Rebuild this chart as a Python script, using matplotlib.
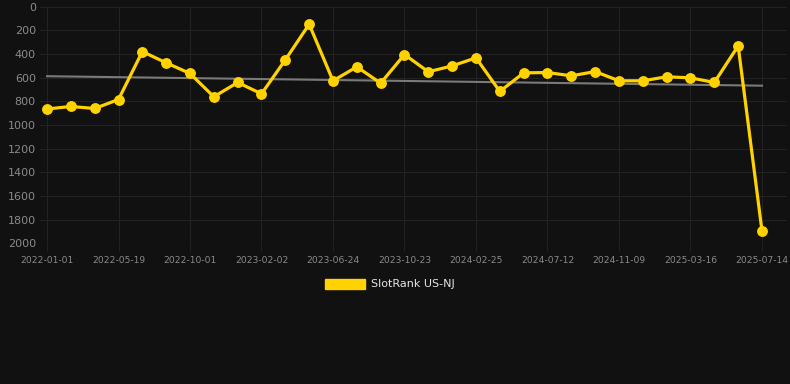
#!/usr/bin/env python3
"""SlotRank US-NJ — evolución del ranking con línea de tendencia."""
import numpy as np
import matplotlib
matplotlib.use("Agg")
import matplotlib.pyplot as plt
from matplotlib.patches import Patch

BG, GRID, TXT = "#111111", "#222222", "#8a8a8a"
GOLD, TREND = "#ffd200", "#7a7a7a"

dates = ["2022-01-01", "2022-05-19", "2022-10-01", "2023-02-02", "2023-06-24",
         "2023-10-23", "2024-02-25", "2024-07-12", "2024-11-09", "2025-03-16",
         "2025-07-14"]
rank = [865, 844, 861, 785, 380, 475, 565, 762, 641, 737,
        450, 149, 627, 509, 647, 405, 551, 501, 433, 717,
        560, 557, 585, 549, 627, 627, 593, 602, 641, 332,
        1896]
label_step = 3

x = np.arange(len(rank))
coef = np.polyfit(x, rank, 1)

fig = plt.figure(figsize=(7.9, 3.84), dpi=100, facecolor=BG)
ax = fig.add_axes([40 / 790, 1 - 243.3 / 384, 747 / 790, 236.7 / 384])
ax.set_facecolor(BG)

ax.plot(x[[0, -1]], np.polyval(coef, x[[0, -1]]), color=TREND, lw=1.5, zorder=2)
ax.plot(x, rank, color=GOLD, lw=2.3, marker="o", markersize=6.8, zorder=3)

ax.set_ylim(2000, 0)
ax.set_xlim(-7 / 23.83, 30 + 25 / 23.83)
ax.set_yticks(range(0, 2001, 200))
ax.set_xticks(x[::label_step])
ax.set_xticklabels(dates)
ax.grid(True, color=GRID, lw=0.8)
for s in ax.spines.values():
    s.set_visible(False)
ax.tick_params(axis="y", colors=GRID, labelcolor=TXT, labelsize=8, length=0, pad=3)
ax.tick_params(axis="x", colors=GRID, labelcolor=TXT, labelsize=6.6, length=6, pad=3)

fig.legend(handles=[Patch(facecolor=GOLD, edgecolor=GOLD)], labels=["SlotRank US-NJ"],
           loc="center", bbox_to_anchor=(390 / 790, 1 - 284 / 384), frameon=False,
           handlelength=3.6, handleheight=1.0, handletextpad=0.5,
           labelcolor="#e6e6e6", fontsize=8)

fig.savefig("out.png", dpi=100, facecolor=BG)
